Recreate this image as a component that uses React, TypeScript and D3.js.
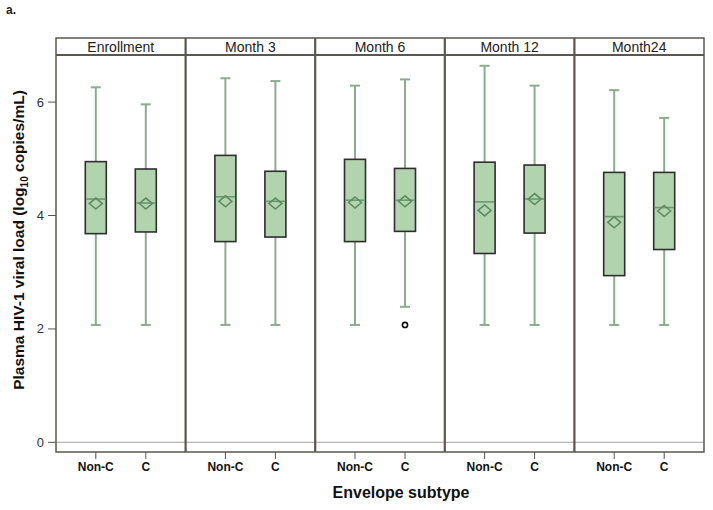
import React from "react";
import * as d3 from "d3";

const panels = ["Enrollment", "Month 3", "Month 6", "Month 12", "Month24"];
const subtypes = ["Non-C", "C"];
// per panel, per subtype: [low whisker, Q1, median, Q3, high whisker]
const nonCStats = [
  [2.07, 3.68, 4.29, 4.95, 6.26],
  [2.07, 3.54, 4.33, 5.06, 6.42],
  [2.07, 3.54, 4.27, 4.99, 6.29],
  [2.07, 3.33, 4.24, 4.94, 6.64],
  [2.07, 2.94, 3.98, 4.76, 6.21],
];
const cStats = [
  [2.07, 3.71, 4.22, 4.82, 5.96],
  [2.07, 3.62, 4.25, 4.78, 6.37],
  [2.39, 3.72, 4.27, 4.83, 6.40],
  [2.07, 3.69, 4.29, 4.89, 6.29],
  [2.07, 3.40, 4.14, 4.76, 5.72],
];
const nonCMeans = [4.21, 4.25, 4.23, 4.09, 3.88];
const cMeans = [4.21, 4.21, 4.25, 4.29, 4.08];
// outliers: [panel index, subtype, value]
const outliers: [number, string, number][] = [[2, "C", 2.07]];
const yTicks = [0, 2, 4, 6];

const W = 713;
const H = 510;
const left = 56;
const right = 704;
const stripTop = 38;
const plotTop = 55;
const plotBottom = 452;

const FONT = "'Liberation Sans', Arial, sans-serif";
const frameColor = "#5b564e";
const fillColor = "#b1d3ad";
const whiskerColor = "#8aad8d";
const medianColor = "#6c9b70";
const meanColor = "#5a8c5f";
const boxStroke = "#2e2e2e";

export default function App() {
  const xPanel = d3.scaleBand<string>().domain(panels).range([left, right]).padding(0);
  const pw = xPanel.bandwidth();
  const xSub = d3.scalePoint<string>().domain(subtypes).range([0, pw]).padding(0.796);
  const y = d3.scaleLinear().domain([-0.17, 6.83]).range([plotBottom, plotTop]);
  const boxW = 21;
  const capW = 10;

  const series = [
    { name: "Non-C", stats: nonCStats, means: nonCMeans },
    { name: "C", stats: cStats, means: cMeans },
  ];

  const diamond = (cx: number, cy: number) =>
    `M${cx - 6.5},${cy} L${cx},${cy - 5.5} L${cx + 6.5},${cy} L${cx},${cy + 5.5} Z`;

  return (
    <svg width={W} height={H} style={{ display: "block", position: "absolute", left: 0, top: 0 }} fontFamily={FONT}>
      <rect width={W} height={H} fill="#fff" />
      <text x={6} y={14} fontSize={12} fontWeight="bold" fill="#222">a.</text>

      {/* zero reference line */}
      <line x1={left} x2={right} y1={y(0)} y2={y(0)} stroke="#b5b5b5" strokeWidth={1.2} />

      {/* boxes */}
      {panels.map((p, i) => (
        <g key={p}>
          {series.map((s) => {
            const cx = (xPanel(p) as number) + (xSub(s.name) as number);
            const [lo, q1, med, q3, hi] = s.stats[i];
            return (
              <g key={s.name}>
                <line x1={cx} x2={cx} y1={y(hi)} y2={y(q3)} stroke={whiskerColor} strokeWidth={2} />
                <line x1={cx} x2={cx} y1={y(q1)} y2={y(lo)} stroke={whiskerColor} strokeWidth={2} />
                <line x1={cx - capW / 2} x2={cx + capW / 2} y1={y(hi)} y2={y(hi)} stroke={whiskerColor} strokeWidth={2} />
                <line x1={cx - capW / 2} x2={cx + capW / 2} y1={y(lo)} y2={y(lo)} stroke={whiskerColor} strokeWidth={2} />
                <rect x={cx - boxW / 2} y={y(q3)} width={boxW} height={y(q1) - y(q3)} fill={fillColor} stroke={boxStroke} strokeWidth={1.6} />
                <line x1={cx - boxW / 2 + 1} x2={cx + boxW / 2 - 1} y1={y(med)} y2={y(med)} stroke={medianColor} strokeWidth={1.6} />
                <path d={diamond(cx, y(s.means[i]))} fill="none" stroke={meanColor} strokeWidth={1.5} />
              </g>
            );
          })}
        </g>
      ))}
      {outliers.map(([pi, sub, v], k) => (
        <circle key={k} cx={(xPanel(panels[pi]) as number) + (xSub(sub) as number)} cy={y(v)} r={2.6} fill="none" stroke="#111" strokeWidth={1.6} />
      ))}

      {/* frame */}
      <rect x={left} y={stripTop} width={right - left} height={plotBottom - stripTop} fill="none" stroke={frameColor} strokeWidth={1.5} />
      <line x1={left} x2={right} y1={plotTop} y2={plotTop} stroke={frameColor} strokeWidth={2} />
      {panels.slice(1).map((p) => (
        <line key={p} x1={xPanel(p) as number} x2={xPanel(p) as number} y1={stripTop} y2={plotBottom} stroke={frameColor} strokeWidth={2.2} />
      ))}
      {panels.map((p) => (
        <text key={p} x={(xPanel(p) as number) + pw / 2} y={52} fontSize={14} textAnchor="middle" fill="#222">{p}</text>
      ))}

      {/* y axis */}
      {yTicks.map((t) => (
        <g key={t}>
          <line x1={left - 8} x2={left} y1={y(t)} y2={y(t)} stroke="#555" strokeWidth={1} />
          <text x={left - 12} y={y(t) + 4.5} fontSize={13} textAnchor="end" fill="#333">{t}</text>
        </g>
      ))}
      <text transform={`translate(24,240) rotate(-90)`} fontSize={15.5} fontWeight="bold" textAnchor="middle" fill="#111">
        Plasma HIV-1 viral load (log<tspan fontSize={10} dy={4}>10</tspan><tspan dy={-4}> copies/mL)</tspan>
      </text>

      {/* x axis */}
      {panels.map((p) =>
        subtypes.map((s) => {
          const cx = (xPanel(p) as number) + (xSub(s) as number);
          return (
            <g key={p + s}>
              <line x1={cx} x2={cx} y1={plotBottom} y2={plotBottom + 7} stroke="#555" strokeWidth={1} />
              <text x={cx} y={471} fontSize={12} fontWeight="bold" textAnchor="middle" fill="#111">{s}</text>
            </g>
          );
        })
      )}
      <text x={401} y={498} fontSize={16} fontWeight="bold" textAnchor="middle" fill="#111">Envelope subtype</text>
    </svg>
  );
}
